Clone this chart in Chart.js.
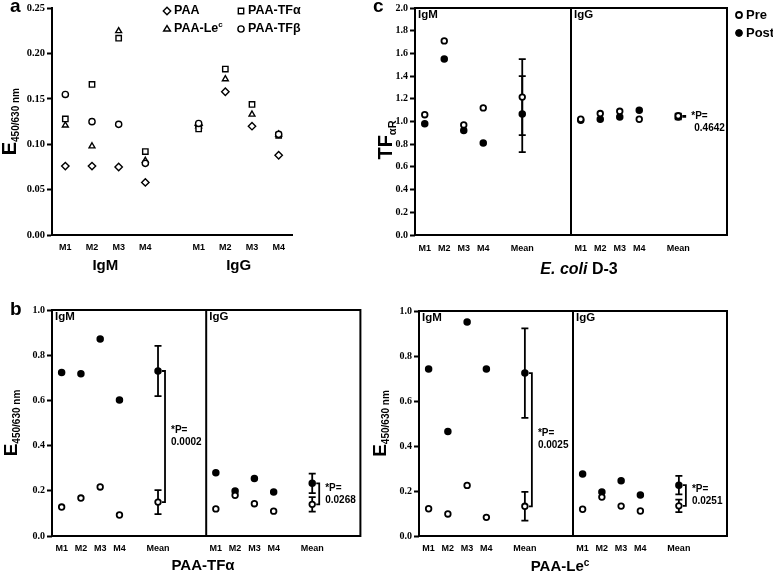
<!DOCTYPE html>
<html>
<head>
<meta charset="utf-8">
<script src="https://cdn.jsdelivr.net/npm/chart.js@4/dist/chart.umd.min.js"></script>
<style>
  body { margin: 0; background: #fff; width: 773px; height: 576px; position: relative; overflow: hidden; }
  canvas { position: absolute; }
</style>
</head>
<body>
<canvas id="pa" width="360" height="290" style="left:0px;top:0px"></canvas>
<canvas id="pc" width="408" height="290" style="left:365px;top:0px"></canvas>
<canvas id="pbl" width="365" height="286" style="left:0px;top:290px"></canvas>
<canvas id="pbr" width="408" height="286" style="left:365px;top:290px"></canvas>
<script>
// ---- panel a : binding to PAA conjugates, IgM M1-M4 then IgG M1-M4 ----
const aTickLabels = ['M1', 'M2', 'M3', 'M4', '', 'M1', 'M2', 'M3', 'M4'];
const aSlots = [1, 2, 3, 4, 6, 7, 8, 9];
const aPAA = [0.076, 0.076, 0.075, 0.058, 0.121, 0.158, 0.120, 0.088];
const aLec = [0.121, 0.098, 0.225, 0.082, 0.120, 0.172, 0.133, 0.111];
const aTFa = [0.128, 0.166, 0.217, 0.092, 0.117, 0.183, 0.144, 0.110];
const aTFb = [0.155, 0.125, 0.122, 0.079, 0.123, null, null, 0.111];

// ---- shared layout for panels b and c ----
const slotLabels = ['M1', 'M2', 'M3', 'M4', '', 'Mean', '', '', 'M1', 'M2', 'M3', 'M4', '', 'Mean', '', ''];
const subjectSlots = [0, 1, 2, 3, 8, 9, 10, 11];
const meanSlots = [5, 13];

// ---- panel c : TFaR, E. coli D-3 ----
const cPre = [1.06, 1.71, 0.97, 1.12, 1.02, 1.07, 1.09, 1.02];
const cPost = [0.98, 1.55, 0.92, 0.81, 1.01, 1.02, 1.04, 1.10];
const cPreMean = [1.215, 1.05];
const cPreSd = [0.335, 0.02];
const cPostMean = [1.065, 1.04];
const cPostSd = [0.335, 0.02];
const cP = ['', '0.4642'];

// ---- panel b left : PAA-TFa ----
const tfPre = [0.128, 0.168, 0.217, 0.093, 0.120, 0.180, 0.143, 0.110];
const tfPost = [0.724, 0.718, 0.872, 0.602, 0.280, 0.199, 0.254, 0.195];
const tfPreMean = [0.150, 0.140];
const tfPreSd = [0.053, 0.032];
const tfPostMean = [0.730, 0.233];
const tfPostSd = [0.111, 0.043];
const tfP = ['0.0002', '0.0268'];

// ---- panel b right : PAA-Lec ----
const lePre = [0.121, 0.098, 0.225, 0.083, 0.119, 0.173, 0.133, 0.111];
const lePost = [0.742, 0.464, 0.951, 0.742, 0.276, 0.196, 0.246, 0.182];
const lePreMean = [0.132, 0.134];
const lePreSd = [0.064, 0.028];
const lePostMean = [0.724, 0.226];
const lePostSd = [0.199, 0.041];
const leP = ['0.0025', '0.0251'];

const SANS = '"Liberation Sans", Arial, sans-serif';
const SERIF = '"Liberation Serif", "Times New Roman", serif';
Chart.defaults.font.family = SANS;
Chart.defaults.color = '#000';

function text(ctx, str, x, y, font, align, base) {
  ctx.save();
  ctx.font = font;
  ctx.fillStyle = '#000';
  ctx.textAlign = align || 'left';
  ctx.textBaseline = base || 'middle';
  ctx.fillText(str, x, y);
  ctx.restore();
}

// big letter + smaller lowered part, written upward
function yTitle(ctx, x, yMid, main, mainFont, sub, subFont, drop) {
  ctx.save();
  ctx.font = mainFont;
  const w1 = ctx.measureText(main).width;
  ctx.font = subFont;
  const w2 = ctx.measureText(sub).width;
  ctx.translate(x, yMid + (w1 + w2) / 2);
  ctx.rotate(-Math.PI / 2);
  ctx.fillStyle = '#000';
  ctx.textBaseline = 'alphabetic';
  ctx.font = mainFont;
  ctx.fillText(main, 0, 0);
  ctx.font = subFont;
  ctx.fillText(sub, w1, drop);
  ctx.restore();
}

// text with a raised small tail, centred on x
function supText(ctx, main, sup, x, y, font, supFont, rise) {
  ctx.save();
  ctx.font = font;
  const w1 = ctx.measureText(main).width;
  ctx.font = supFont;
  const w2 = ctx.measureText(sup).width;
  const x0 = x - (w1 + w2) / 2;
  ctx.fillStyle = '#000';
  ctx.textBaseline = 'alphabetic';
  ctx.font = font;
  ctx.fillText(main, x0, y);
  ctx.font = supFont;
  ctx.fillText(sup, x0 + w1, y - rise);
  ctx.restore();
}

function marker(ctx, style, x, y, r, fill, bw) {
  ctx.save();
  ctx.beginPath();
  if (style === 'circle') ctx.arc(x, y, r, 0, Math.PI * 2);
  else if (style === 'rect') { const s = r * Math.SQRT1_2; ctx.rect(x - s, y - s, 2 * s, 2 * s); }
  else if (style === 'rectRot') { ctx.moveTo(x - r, y); ctx.lineTo(x, y - r); ctx.lineTo(x + r, y); ctx.lineTo(x, y + r); ctx.closePath(); }
  else if (style === 'triangle') { ctx.moveTo(x - r, y + r * 0.6); ctx.lineTo(x, y - r); ctx.lineTo(x + r, y + r * 0.6); ctx.closePath(); }
  ctx.fillStyle = fill;
  ctx.fill();
  ctx.lineWidth = bw;
  ctx.strokeStyle = '#000';
  ctx.stroke();
  ctx.restore();
}

function pts(slots, vals) {
  return slots.map((s, i) => ({ x: s, y: vals[i] }));
}

function series(data, style, fill, r, bw) {
  return {
    data, pointStyle: style, pointRadius: r, pointHoverRadius: r,
    pointBorderWidth: bw, pointBorderColor: '#000', pointBackgroundColor: fill
  };
}

function xAxis(min, max, labels, first, height, pad) {
  return {
    type: 'linear', min, max,
    afterBuildTicks: s => { s.ticks = labels.map((_, i) => ({ value: first + i })); },
    ticks: { callback: (v, i) => labels[i], font: { size: 9, weight: 'bold' }, padding: pad, maxRotation: 0, autoSkip: false },
    grid: { display: false, drawTicks: false },
    border: { display: false },
    afterFit: s => { s.height = height; }
  };
}

function yAxis(max, step, digits, width, fontSize, showBorder) {
  return {
    min: 0, max,
    ticks: { stepSize: step, callback: v => v.toFixed(digits), font: { family: SERIF, size: fontSize, weight: 'bold' }, padding: 2 },
    grid: { drawOnChartArea: false, tickLength: 5, tickWidth: 2, tickColor: '#000' },
    border: { display: showBorder, width: 2, color: '#000' },
    afterFit: s => { s.width = width; }
  };
}

const baseOptions = {
  responsive: false, devicePixelRatio: 1, animation: false,
  plugins: { legend: { display: false }, tooltip: { enabled: false } }
};

// ---------------- panel a ----------------
new Chart(document.getElementById('pa'), {
  type: 'scatter',
  data: {
    datasets: [
      series(pts(aSlots, aTFb), 'circle', '#fff', 3.1, 1.4),
      series(pts(aSlots, aTFa), 'rect', '#fff', 3.8, 1.4),
      series(pts(aSlots, aLec), 'triangle', '#fff', 3.4, 1.4),
      series(pts(aSlots, aPAA), 'rectRot', '#fff', 3.7, 1.4)
    ]
  },
  options: {
    ...baseOptions,
    layout: { padding: { left: 0, top: 7, right: 68, bottom: 0 } },
    scales: {
      x: { ...xAxis(0.5, 9.5, aTickLabels, 1, 55, 7), border: { display: true, width: 2, color: '#000' } },
      y: yAxis(0.25, 0.05, 2, 52, 10.5, true)
    }
  },
  plugins: [{
    id: 'decoA',
    afterDraw(chart) {
      const { ctx, chartArea } = chart;
      text(ctx, 'a', 10, 12, 'bold 19px ' + SANS, 'left', 'alphabetic');
      yTitle(ctx, 16, (chartArea.top + chartArea.bottom) / 2, 'E', 'bold 20px ' + SANS, '450/630 nm', 'bold 10px ' + SANS, 3);
      const x = chart.scales.x;
      text(ctx, 'IgM', (x.getPixelForValue(1) + x.getPixelForValue(4)) / 2, 266, 'bold 15px ' + SANS, 'center');
      text(ctx, 'IgG', (x.getPixelForValue(6) + x.getPixelForValue(9)) / 2, 266, 'bold 15px ' + SANS, 'center');
      const lf = 'bold 12.5px ' + SANS;
      marker(ctx, 'rectRot', 167, 11, 3.7, '#fff', 1.4);
      text(ctx, 'PAA', 174, 11, lf);
      marker(ctx, 'triangle', 167, 29, 3.4, '#fff', 1.4);
      ctx.save();
      ctx.font = lf;
      const wl = ctx.measureText('PAA-Le').width;
      ctx.restore();
      text(ctx, 'PAA-Le', 174, 29, lf);
      text(ctx, 'c', 174 + wl, 25, 'bold 8px ' + SANS);
      marker(ctx, 'rect', 241, 11, 3.8, '#fff', 1.4);
      text(ctx, 'PAA-TF\u03b1', 248, 11, lf);
      marker(ctx, 'circle', 241, 29, 3.1, '#fff', 1.4);
      text(ctx, 'PAA-TF\u03b2', 248, 29, lf);
    }
  }]
});

// ---------------- panels b and c ----------------
function pairPanel(id, d, geo) {
  const errorBars = {
    id: 'errorBars',
    beforeDatasetsDraw(chart) {
      const { ctx, scales: { x, y } } = chart;
      ctx.save();
      ctx.strokeStyle = '#000';
      ctx.lineWidth = 1.8;
      [[d.preMean, d.preSd], [d.postMean, d.postSd]].forEach(([m, sd]) => {
        m.forEach((v, g) => {
          const px = x.getPixelForValue(meanSlots[g]);
          const y1 = y.getPixelForValue(v + sd[g]);
          const y2 = y.getPixelForValue(v - sd[g]);
          ctx.beginPath();
          ctx.moveTo(px, y1); ctx.lineTo(px, y2);
          ctx.moveTo(px - 3.5, y1); ctx.lineTo(px + 3.5, y1);
          ctx.moveTo(px - 3.5, y2); ctx.lineTo(px + 3.5, y2);
          ctx.stroke();
        });
      });
      ctx.restore();
    }
  };
  const deco = {
    id: 'deco',
    afterDraw(chart) {
      const { ctx, chartArea: a, scales: { x, y } } = chart;
      ctx.save();
      ctx.strokeStyle = '#000';
      ctx.lineWidth = 2;
      ctx.strokeRect(a.left, a.top, a.right - a.left, a.bottom - a.top);
      const div = x.getPixelForValue(7.5);
      ctx.beginPath();
      ctx.moveTo(div, a.top);
      ctx.lineTo(div, a.bottom);
      ctx.stroke();
      ctx.lineWidth = 1.8;
      d.pVals.forEach((p, g) => {
        if (!p) return;
        const px = x.getPixelForValue(meanSlots[g]);
        const bx = px + 7;
        const yt = y.getPixelForValue(d.postMean[g]);
        const yb = y.getPixelForValue(d.preMean[g]);
        ctx.beginPath();
        ctx.moveTo(px + 4, yt); ctx.lineTo(bx, yt); ctx.lineTo(bx, yb); ctx.lineTo(px + 4, yb);
        ctx.stroke();
        const mid = (yt + yb) / 2;
        text(ctx, '*P=', bx + 6 + geo.pDx[0], mid + geo.pDy[0], 'bold 10px ' + SANS);
        text(ctx, p, bx + 6 + geo.pDx[1], mid + geo.pDy[1], 'bold 10px ' + SANS);
      });
      ctx.restore();
      text(ctx, 'IgM', a.left + 3, a.top + 7, 'bold 11.5px ' + SANS);
      text(ctx, 'IgG', div + 3, a.top + 7, 'bold 11.5px ' + SANS);
      geo.draw(ctx, a);
    }
  };
  new Chart(document.getElementById(id), {
    type: 'scatter',
    data: {
      datasets: [
        series(pts(subjectSlots, d.pre), 'circle', '#fff', 2.8, 1.8),
        series(pts(meanSlots, d.preMean), 'circle', '#fff', 2.8, 1.8),
        series(pts(subjectSlots, d.post), 'circle', '#000', 2.9, 1.7),
        series(pts(meanSlots, d.postMean), 'circle', '#000', 2.9, 1.7)
      ]
    },
    options: {
      ...baseOptions,
      layout: { padding: { left: 0, top: geo.top, right: geo.right, bottom: 0 } },
      scales: {
        x: xAxis(-0.5, 15.5, slotLabels, 0, geo.xHeight, geo.xPad),
        y: yAxis(geo.yMax, geo.yStep, 1, geo.yWidth, 10, false)
      }
    },
    plugins: [errorBars, deco]
  });
}

pairPanel('pc', {
  pre: cPre, post: cPost, preMean: cPreMean, preSd: cPreSd,
  postMean: cPostMean, postSd: cPostSd, pVals: cP
}, {
  top: 6, right: 46, xHeight: 55, xPad: 8, yWidth: 50, yMax: 2.0, yStep: 0.2,
  pDx: [0, 3], pDy: [0, 12],
  draw(ctx, a) {
    text(ctx, 'c', 8, 12, 'bold 19px ' + SANS, 'left', 'alphabetic');
    yTitle(ctx, 27, 140, 'TF', 'bold 20px ' + SANS, '\u03b1R', 'bold 11px ' + SANS, 4);
    ctx.save();
    const fi = 'italic bold 16px ' + SANS, fb = 'bold 16px ' + SANS;
    ctx.font = fi;
    const w1 = ctx.measureText('E. coli').width;
    ctx.font = fb;
    const w2 = ctx.measureText(' D-3').width;
    ctx.restore();
    const x0 = 214 - (w1 + w2) / 2;
    text(ctx, 'E. coli', x0, 270, fi);
    text(ctx, ' D-3', x0 + w1, 270, fb);
    marker(ctx, 'circle', 374, 15, 3, '#fff', 1.8);
    text(ctx, 'Pre', 381, 15, 'bold 13px ' + SANS);
    marker(ctx, 'circle', 374, 33, 3.4, '#000', 1);
    text(ctx, 'Post', 381, 33, 'bold 13px ' + SANS);
  }
});

pairPanel('pbl', {
  pre: tfPre, post: tfPost, preMean: tfPreMean, preSd: tfPreSd,
  postMean: tfPostMean, postSd: tfPostSd, pVals: tfP
}, {
  top: 20, right: 4, xHeight: 40, xPad: 7, yWidth: 52, yMax: 1.0, yStep: 0.2,
  pDx: [0, 0], pDy: [-6, 6],
  draw(ctx, a) {
    text(ctx, 'b', 10, 25, 'bold 19px ' + SANS, 'left', 'alphabetic');
    yTitle(ctx, 17, (a.top + a.bottom) / 2, 'E', 'bold 19px ' + SANS, '450/630 nm', 'bold 10px ' + SANS, 3);
    text(ctx, 'PAA-TF\u03b1', 203, 276, 'bold 15px ' + SANS, 'center');
  }
});

pairPanel('pbr', {
  pre: lePre, post: lePost, preMean: lePreMean, preSd: lePreSd,
  postMean: lePostMean, postSd: lePostSd, pVals: leP
}, {
  top: 21, right: 46, xHeight: 40, xPad: 7, yWidth: 54, yMax: 1.0, yStep: 0.2,
  pDx: [0, 0], pDy: [-6, 6],
  draw(ctx, a) {
    yTitle(ctx, 21, (a.top + a.bottom) / 2, 'E', 'bold 19px ' + SANS, '450/630 nm', 'bold 10px ' + SANS, 3);
    supText(ctx, 'PAA-Le', 'c', 195, 281, 'bold 15px ' + SANS, 'bold 10px ' + SANS, 5);
  }
});
</script>
</body>
</html>
